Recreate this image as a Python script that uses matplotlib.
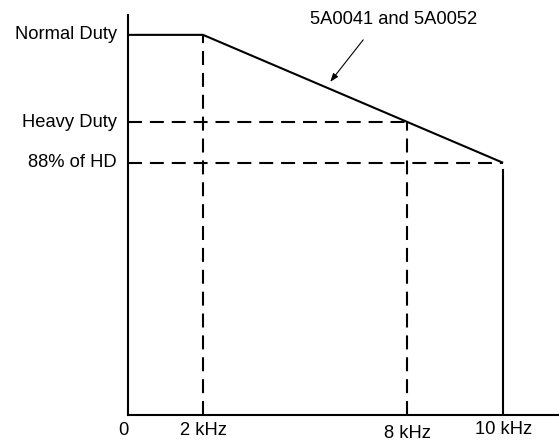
import matplotlib
matplotlib.use("Agg")
import matplotlib.pyplot as plt

# Derating curve (x: position on frequency axis, y: % of heavy duty rating)
freq_pos = [0.0, 2.0, 7.44, 10.0]
freq_labels = ["0", "2 kHz", "8 kHz", "10 kHz"]
level_names = ["Normal Duty", "Heavy Duty", "88% of HD"]
level_values = [130.0, 100.0, 86.2]

curve_x = [0.0, 2.0, 10.0]
curve_y = [130.0, 130.0, 86.2]

plt.rcParams["font.family"] = ["Liberation Sans", "DejaVu Sans"]

fig = plt.figure(figsize=(5.59, 4.42), dpi=100)
ax = fig.add_axes([128 / 559, 27.4 / 442, 1 - 128 / 559, 399.6 / 442])
ax.set_xlim(0, 11.49)
ax.set_ylim(0, 136.8)

for s in ["top", "right"]:
    ax.spines[s].set_visible(False)
for s in ["left", "bottom"]:
    ax.spines[s].set_linewidth(1.5)
ax.set_xticks([])
ax.set_yticks([])

dash = (0, (6.7, 3.8))
lw = 1.5
fs = 13.2

# main curve
ax.plot(curve_x, curve_y, color="black", lw=lw, solid_capstyle="butt")

# guide lines
ax.plot([freq_pos[1], freq_pos[1]], [0, level_values[0]], color="black", lw=lw, ls=dash)
ax.plot([0, freq_pos[2]], [level_values[1], level_values[1]], color="black", lw=lw, ls=dash)
ax.plot([freq_pos[2], freq_pos[2]], [0, level_values[1]], color="black", lw=lw, ls=dash)
ax.plot([0, freq_pos[3]], [level_values[2], level_values[2]], color="black", lw=lw, ls=dash)
ax.plot([freq_pos[3], freq_pos[3]], [0, level_values[2] - 2.5], color="black", lw=lw)

# y labels
for name, val in zip(level_names, level_values):
    ax.text(-0.3, val, name, ha="right", va="center", fontsize=fs, clip_on=False)

# x labels
label_dy = [-5.3, -5.3, -6.4, -5.1]
for pos, lab, dy in zip(freq_pos, freq_labels, label_dy):
    ax.text(pos - (0.12 if pos == 0 else 0), dy, lab, ha="center", va="center",
            fontsize=fs, clip_on=False)

# curve annotation
ax.text(7.09, 135.1, "5A0041 and 5A0052", ha="center", va="center", fontsize=fs,
        clip_on=False)
ax.annotate("", xy=(5.39, 113.9), xytext=(6.27, 128.3),
            arrowprops=dict(arrowstyle="-|>,head_length=0.5,head_width=0.18",
                            color="black", lw=0.8, shrinkA=0, shrinkB=0))

fig.savefig("out.png", dpi=100)
